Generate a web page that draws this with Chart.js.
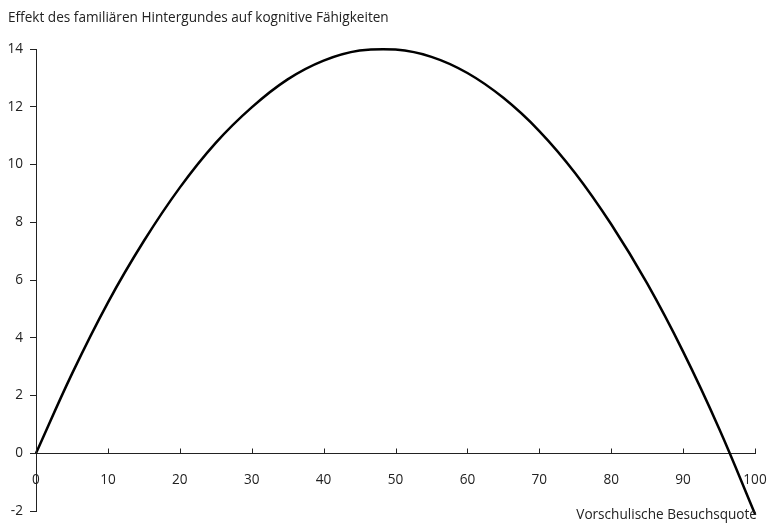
<!DOCTYPE html>
<html>
<head>
<meta charset="utf-8">
<script src="https://cdn.jsdelivr.net/npm/chart.js@4.4.1/dist/chart.umd.min.js"></script>
<style>
  html, body { margin: 0; padding: 0; background: #fff; }
  #wrap { width: 769px; height: 532px; position: relative; }
</style>
</head>
<body>
<div id="wrap"><canvas id="c"></canvas></div>
<script>
// Data (estimates)
const besuchsquote = [0, 5, 10, 15, 20, 25, 30, 35, 40, 45, 50, 55, 60, 65, 70, 75, 80, 85, 90, 95, 100];
const effekt = [0, 2.75, 5.22, 7.35, 9.2, 10.75, 11.98, 12.95, 13.6, 13.95, 13.98, 13.73, 13.17, 12.31, 11.16, 9.7, 7.93, 5.88, 3.52, 0.86, -2.1];
const xTicks = [0, 10, 20, 30, 40, 50, 60, 70, 80, 90, 100];
const yTicks = [-2, 0, 2, 4, 6, 8, 10, 12, 14];
const titleText = 'Effekt des familiären Hintergundes auf kognitive Fähigkeiten';
const xTitleText = 'Vorschulische Besuchsquote';

const FONT = '"Open Sans", "Noto Sans", sans-serif';
const FSIZE = 13.6;
const AXIS_COLOR = '#222';

const points = besuchsquote.map((x, i) => ({ x: x, y: effekt[i] }));

const extras = {
  id: 'extras',
  afterDraw(chart) {
    const ctx = chart.ctx;
    const xs = chart.scales.x, ys = chart.scales.y;
    const y0 = Math.round(ys.getPixelForValue(0)) + 0.5;
    ctx.save();
    ctx.strokeStyle = AXIS_COLOR;
    ctx.lineWidth = 1;
    ctx.beginPath();
    xTicks.forEach(v => {
      const px = Math.round(xs.getPixelForValue(v)) + 0.5;
      ctx.moveTo(px, y0);
      ctx.lineTo(px, y0 - 5);
    });
    ctx.stroke();
    ctx.fillStyle = '#222';
    ctx.font = FSIZE + 'px ' + FONT;
    ctx.textAlign = 'right';
    ctx.textBaseline = 'alphabetic';
    ctx.fillText(xTitleText, chart.chartArea.right + 2, 519);
    ctx.restore();
  }
};

new Chart(document.getElementById('c'), {
  type: 'line',
  data: {
    datasets: [{
      data: points,
      borderColor: '#000',
      borderWidth: 2.5,
      pointRadius: 0,
      tension: 0.4,
      fill: false,
      clip: false
    }]
  },
  options: {
    responsive: true,
    maintainAspectRatio: false,
    animation: false,
    events: [],
    layout: { padding: { left: 8, right: 14, top: 0, bottom: 21 } },
    plugins: {
      legend: { display: false },
      tooltip: { enabled: false },
      title: {
        display: true,
        text: titleText,
        align: 'start',
        color: '#222',
        font: { family: FONT, size: FSIZE, weight: 'normal', lineHeight: 1.2 },
        padding: { top: 10, bottom: 22.7 }
      }
    },
    scales: {
      x: {
        type: 'linear',
        position: { y: 0 },
        min: 0, max: 100,
        afterBuildTicks: s => { s.ticks = xTicks.map(v => ({ value: v })); },
        afterFit: s => { s.paddingRight = 0; s.paddingLeft = 0; },
        ticks: { color: '#222', font: { family: FONT, size: FSIZE }, padding: 19, maxRotation: 0 },
        grid: { display: false, drawTicks: false },
        border: { display: true, color: AXIS_COLOR, width: 1 }
      },
      y: {
        type: 'linear',
        min: -2, max: 14,
        afterBuildTicks: s => { s.ticks = yTicks.map(v => ({ value: v })); },
        afterFit: s => { s.width = 28; s.paddingTop = 0; s.paddingBottom = 0; },
        ticks: { color: '#222', font: { family: FONT, size: FSIZE }, padding: 7 },
        grid: { display: true, drawOnChartArea: false, drawTicks: true, tickLength: 6, color: AXIS_COLOR },
        border: { display: true, color: AXIS_COLOR, width: 1 }
      }
    }
  },
  plugins: [extras]
});
</script>
</body>
</html>
